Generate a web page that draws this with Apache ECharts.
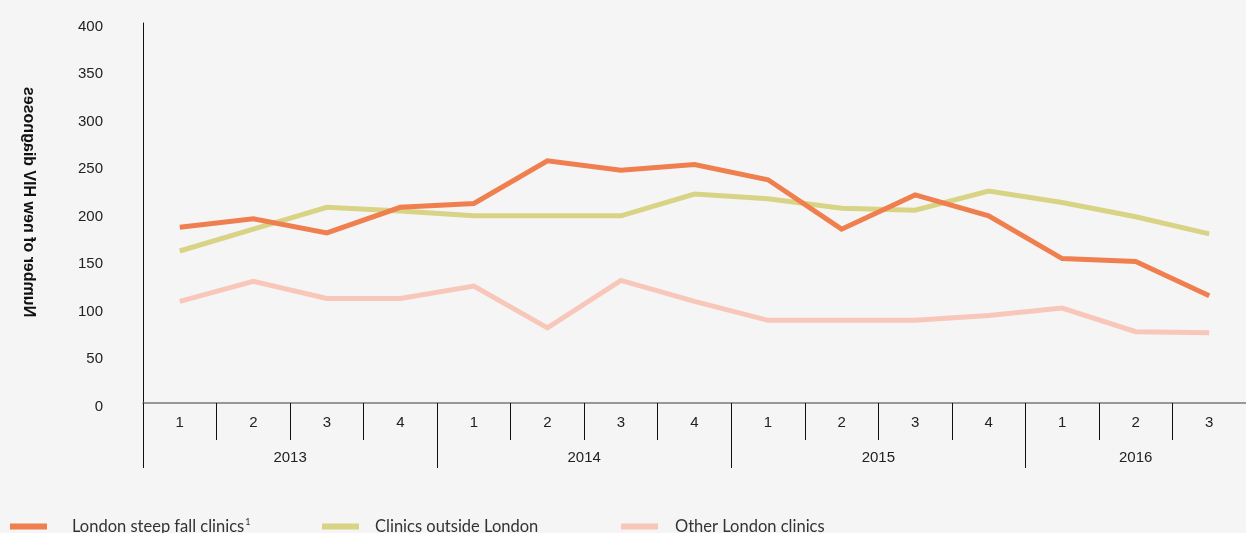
<!DOCTYPE html>
<html>
<head>
<meta charset="utf-8">
<script src="https://cdn.jsdelivr.net/npm/echarts@6/dist/echarts.min.js"></script>
<style>
    html, body { margin: 0; padding: 0; background: #f5f5f5; }
    #chart { width: 1246px; height: 533px; }
</style>
</head>
<body>
<div id="chart"></div>
<script>
const quarters = ['1', '2', '3', '4', '1', '2', '3', '4', '1', '2', '3', '4', '1', '2', '3'];
const years = ['2013', '2014', '2015', '2016'];
const yearStarts = [0, 4, 8, 12];
const yearCentres = [2, 6, 10, 13.5];

const steepFall = [185, 194, 179, 206, 210, 255, 245, 251, 235, 183, 219, 197, 152, 149, 113];
const outsideLondon = [160, 183, 206, 202, 197, 197, 197, 220, 215, 205, 203, 223, 211, 196, 178];
const otherLondon = [107, 128, 110, 110, 123, 79, 129, 107, 87, 87, 87, 92, 100, 75, 74];

const yTicks = { min: 0, max: 400, interval: 50 };

const seriesNames = ['London steep fall clinics', 'Clinics outside London', 'Other London clinics'];
const colors = ['#f07f4f', '#d9d386', '#f8c7ba'];

const chart = echarts.init(document.getElementById('chart'), null, { renderer: 'canvas' });

const labelFont = {
    color: '#222',
    fontSize: 15,
    fontFamily: '"Liberation Sans", Arial, sans-serif',
};

const legendAt = (index, left, gap) => ({
    data: [seriesNames[index]],
    left: left,
    top: 513,
    icon: 'rect',
    itemWidth: 37,
    itemHeight: 6,
    formatter(name) {
        return index === 0 ? name + '{sup|1}' : name;
    },
    textStyle: {
        color: '#333',
        fontSize: 16.5,
        fontFamily: 'Lato, sans-serif',
        padding: [0, 0, 0, gap],
        rich: {
            sup: { fontSize: 9, verticalAlign: 'top', padding: [0, 0, 8, 1], color: '#333' },
        },
    },
});

chart.setOption({
    backgroundColor: '#f5f5f5',
    animation: false,
    grid: { left: 143, right: -4, top: 23, bottom: 130, containLabel: false },
    legend: [legendAt(0, 5, 20), legendAt(1, 317, 11), legendAt(2, 616, 12)],
    graphic: [{
        type: 'text',
        x: 28,
        y: 202,
        rotation: Math.PI / 2,
        scaleY: -1,
        style: {
            text: 'Number of new HIV diagnoses',
            font: 'bold 16px "Liberation Sans", Arial, sans-serif',
            fill: '#111',
            textAlign: 'center',
            textVerticalAlign: 'middle',
        },
    }],
    xAxis: [{
        type: 'category',
        data: quarters,
        boundaryGap: true,
        axisLine: { show: true, lineStyle: { color: '#7a7a7a', width: 1.5 } },
        axisTick: { show: true, interval: 0, length: 37, lineStyle: { color: '#111' } },
        axisLabel: { ...labelFont, interval: 0, margin: 12 },
        splitLine: { show: false },
    }, {
        type: 'value',
        position: 'bottom',
        min: 0,
        max: quarters.length,
        axisLine: { show: false },
        axisTick: { show: true, length: 65, customValues: yearStarts, lineStyle: { color: '#111' } },
        axisLabel: {
            ...labelFont,
            margin: 47,
            customValues: yearCentres,
            formatter(value) {
                const i = yearCentres.indexOf(value);
                return i >= 0 ? years[i] : '';
            },
        },
        splitLine: { show: false },
    }],
    yAxis: {
        type: 'value',
        min: yTicks.min,
        max: yTicks.max,
        interval: yTicks.interval,
        axisLine: { show: true, lineStyle: { color: '#111', width: 1 } },
        axisTick: { show: false },
        axisLabel: {
            margin: 40,
            formatter: (value) => '{v|' + value + '}',
            rich: { v: { ...labelFont, padding: [7, 0, 0, 0] } },
        },
        splitLine: { show: false },
    },
    series: [steepFall, outsideLondon, otherLondon].map((data, i) => ({
        name: seriesNames[i],
        type: 'line',
        xAxisIndex: 0,
        data: data,
        symbol: 'none',
        z: 3 - i,
        lineStyle: { width: 5, color: colors[i], join: 'miter' },
        itemStyle: { color: colors[i] },
    })),
});
</script>
</body>
</html>
